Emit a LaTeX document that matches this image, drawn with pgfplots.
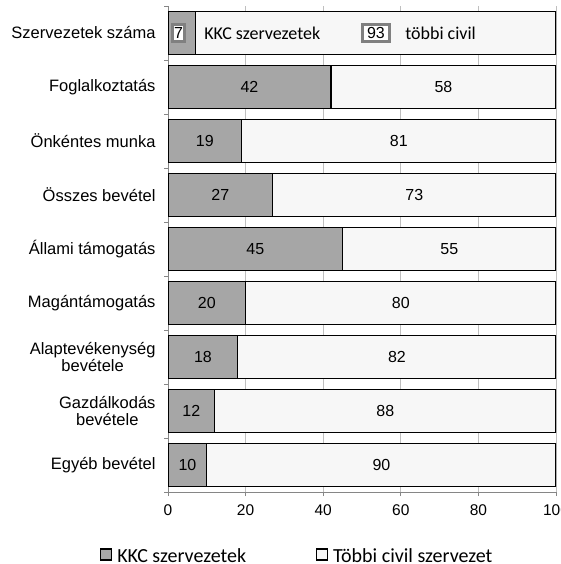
\documentclass[border=0pt]{standalone}
\usepackage{pgfplots}
\pgfplotsset{compat=1.18}
\usepackage{pgfplotstable}
\usepackage{fontspec}
\setmainfont{Liberation Sans}
\newfontfamily\calibri{Carlito}
\definecolor{kkc}{HTML}{A6A6A6}
\definecolor{civ}{HTML}{F7F7F7}
\definecolor{axgray}{HTML}{868686}
\definecolor{boxgray}{HTML}{808080}
\definecolor{gridgray}{HTML}{BFBFBF}

\pgfplotstableread{
idx k c
0 7 93
1 42 58
2 19 81
3 27 73
4 45 55
5 20 80
6 18 82
7 12 88
8 10 90
}\data

\begin{document}
\begin{tikzpicture}[x=1pt,y=1pt]
\begin{axis}[
  /pgf/number format/assume math mode=true,
  at={(168pt,72pt)}, anchor=south west,
  scale only axis, width=388pt, height=486pt,
  stack plots=x,
  xmin=0, xmax=100, ymin=-0.5, ymax=8.5, y dir=reverse,
  xtick={0,20,...,100},
  ytick={0,...,8},
  yticklabels={Szervezetek száma, Foglalkoztatás, Önkéntes munka, Összes bevétel, Állami támogatás, Magántámogatás, {Alaptevékenység\\bevétele}, {Gazdálkodás\\bevétele}, Egyéb bevétel},
  yticklabel style={align=center, font=\fontsize{16.5}{17}\selectfont, xshift=-5pt},
  xticklabel style={font=\fontsize{15.5}{17}\selectfont, yshift=-5pt},
  axis x line*=bottom, axis y line*=left,
  axis line style={-, axgray, line width=0.8pt},
  tick align=outside, major tick length=4pt,
  xtick style={axgray, line width=0.8pt},
  ytick style={draw=none},
  extra y ticks={-0.5,0.5,...,8.5},
  extra y tick labels={},
  extra y tick style={ytick style={draw=axgray, line width=0.8pt}},
  xmajorgrids, major grid style={gridgray, line width=0.8pt},
  legend columns=2,
  legend style={at={(-0.1753,-0.1317)}, anchor=west, draw=none, fill=none,
    inner sep=0pt, font=\calibri\fontsize{20}{22}\selectfont,
    nodes={inner sep=2pt},
    /tikz/every odd column/.append style={column sep=3pt},
    /tikz/every even column/.append style={column sep=68pt}},
  legend image code/.code={\draw[#1, line width=1.1pt] (0pt,-4pt) rectangle (11pt,7pt);},
]
\addplot[xbar, bar shift=0pt, bar width=0.81, fill=kkc, draw=black, line width=1.1pt]
  table[x=k, y=idx]{\data};
\addlegendentry{KKC szervezetek}
\addplot[xbar, bar shift=0pt, bar width=0.81, fill=civ, draw=black, line width=1.1pt]
  table[x=c, y=idx]{\data};
\addlegendentry{Többi civil szervezet}
\addplot[stack plots=false, draw=none, mark=none, forget plot,
  skip coords between index={0}{1},
  point meta=explicit, nodes near coords,
  every node near coord/.append style={anchor=center, font=\fontsize{16}{17}\selectfont, text=black}]
  table[x expr=\thisrow{k}/2, y=idx, meta=k]{\data};
\addplot[stack plots=false, draw=none, mark=none, forget plot,
  skip coords between index={0}{1},
  point meta=explicit, nodes near coords,
  every node near coord/.append style={anchor=center, font=\fontsize{16}{17}\selectfont, text=black}]
  table[x expr=\thisrow{k}+\thisrow{c}/2, y=idx, meta=c]{\data};
\coordinate (b7) at (axis cs:2.7,0);
\coordinate (b93) at (axis cs:53.6,0);
\coordinate (tkkc) at (axis cs:9.3,0);
\coordinate (tciv) at (axis cs:61.1,0);
\end{axis}
\node[draw=boxgray, line width=3pt, fill=white, inner sep=0pt, minimum width=12.5pt, minimum height=17.5pt, font=\fontsize{16}{17}\selectfont] at (b7) {7};
\node[draw=boxgray, line width=3pt, fill=white, inner sep=0pt, minimum width=27.5pt, minimum height=17.5pt, font=\fontsize{16}{17}\selectfont] at (b93) {93};
\node[anchor=west, inner sep=0pt, font=\calibri\fontsize{18}{20}\selectfont] at (tkkc) {KKC szervezetek};
\node[anchor=west, inner sep=0pt, font=\calibri\fontsize{18}{20}\selectfont] at (tciv) {többi civil};
\pgfresetboundingbox
\path (0pt,0pt) rectangle (560pt,564pt);
\end{tikzpicture}
\end{document}
